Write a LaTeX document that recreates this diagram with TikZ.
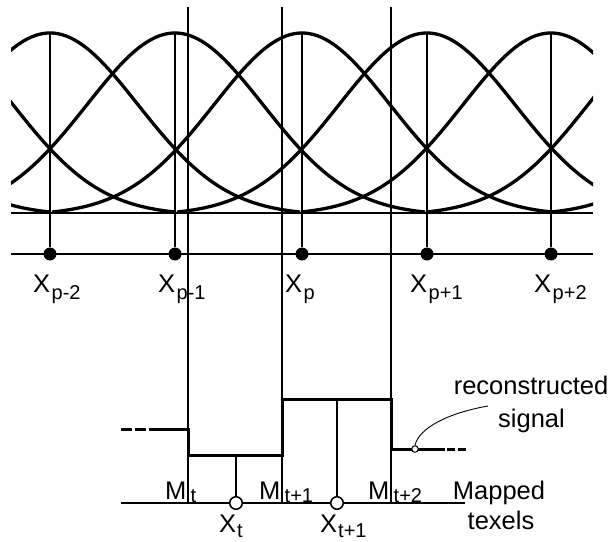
\documentclass[tikz,border=0pt]{standalone}
\usepackage{fontspec}
\setmainfont{Liberation Sans}
\newcommand\subsz{\fontsize{20}{20}\selectfont}
\newcommand\Xlab[1]{X\hspace{1.5pt}\raisebox{-7.5pt}{\subsz #1}}
\newcommand\Xlb[1]{X\hspace{1pt}\raisebox{-5pt}{\subsz #1}}
\newcommand\Mlab[1]{M\hspace{4.5pt}\raisebox{-3pt}{\subsz #1}}
\tikzset{
  curve/.style={line width=3.3pt},
  thinline/.style={line width=1.1pt},
  sig/.style={line width=3pt},
  fdot/.style={circle, fill=black, inner sep=0pt, minimum size=13pt},
  odot/.style={circle, draw=black, fill=white, line width=1.5pt, inner sep=0pt, minimum size=12.5pt},
  sdot/.style={circle, draw=black, fill=white, line width=1pt, inner sep=0pt, minimum size=6.5pt},
  lab/.style={inner sep=0pt, font=\fontsize{25.5}{30}\selectfont},
}
\begin{document}
\begin{tikzpicture}[x=1pt,y=-1pt]
\useasboundingbox (0,0) rectangle (613,541);
% axis lines
\coordinate (bl) at (11,213); \coordinate (br) at (593,213);
\draw[thinline] (bl) -- (br);
\coordinate (al) at (11,254); \coordinate (ar) at (593,254);
\draw[thinline] (al) -- (ar);
% bell curves (Gaussian, support +-2 spacings, touching the base line)
\begin{scope}
\clip (11,0) rectangle (593,230);
\foreach \c in {-200,-75,50,175,302,427,551,676,801} {
  \pgfmathsetmacro\lo{max(0,\c-250)}
  \pgfmathsetmacro\hi{min(604,\c+250)}
  \draw[curve] plot[domain=\lo:\hi, samples=140, smooth]
    (\x,{212-179*(exp(-0.5*((\x-(\c))/88)^2)-0.01768)/0.98232});
}
\end{scope}
% stems and dots
\foreach \c/\n in {50/1,175/2,302/3,427/4,551/5} {
  \coordinate (pk\n) at (\c,33);
  \node[fdot] (d\n) at (\c,254) {};
  \draw[thinline] (d\n) -- (pk\n);
}
% labels of samples
\node[lab, anchor=base west] (lx1) at (33,292) {\Xlab{p-2}};
\node[lab, anchor=base west] (lx2) at (158,292) {\Xlab{p-1}};
\node[lab, anchor=base west] (lx3) at (285,292) {\Xlab{p}};
\node[lab, anchor=base west] (lx4) at (410,292) {\Xlab{p+1}};
\node[lab, anchor=base west] (lx5) at (534,292) {\Xlab{p+2}};
% long verticals
\foreach \m/\xx in {1/188,2/282,3/391} {
  \coordinate (vt\m) at (\xx,7); \coordinate (vb\m) at (\xx,503);
  \draw[thinline] (vt\m) -- (vb\m);
}
% texel line
\coordinate (tl) at (121,503); \coordinate (tr) at (465,503);
\draw[thinline] (tl) -- (tr);
% signal corners
\coordinate (s0) at (121,429); \coordinate (s1) at (149,429);
\coordinate (s2) at (188,429); \coordinate (s3) at (188,455);
\coordinate (s4) at (282,455); \coordinate (s5) at (282,399);
\coordinate (s6) at (391,399); \coordinate (s7) at (391,449);
\coordinate (s8) at (445,449); \coordinate (s9) at (467,449);
\coordinate (s8b) at (447,449);
% texel stems
\coordinate (u1) at (236,455); \coordinate (u2) at (337,399);
\node[odot] (o1) at (236,503) {};
\node[odot] (o2) at (337,503) {};
\draw[thinline] (o1) -- (u1);
\draw[thinline] (o2) -- (u2);
% reconstructed signal
\draw[sig, dash pattern=on 11pt off 3pt] (s0) -- (s1);
\draw[sig, line join=miter] (s1) -- (s2) -- (s3) -- (s4) -- (s5) -- (s6) -- (s7) -- (s8);
\draw[sig, dash pattern=on 8pt off 3pt] (s8b) -- (s9);
% pointer
\node[sdot] (sc) at (415,449) {};
\coordinate (ldr) at (488,406);
\draw[line width=0.9pt] (sc.north) .. controls (419,428) and (448,413) .. (ldr);
\node[lab, anchor=base] (rc) at (531,394) {reconstructed};
\node[lab, anchor=base] (sg) at (531.5,427) {signal};
% M labels
\node[lab, anchor=base west] (m1) at (164.8,499) {\Mlab{t}};
\node[lab, anchor=base west] (m2) at (258.8,499) {\Mlab{t+1}};
\node[lab, anchor=base west] (m3) at (367.8,499) {\Mlab{t+2}};
% texel labels
\node[lab, anchor=base west] (xt1) at (219,532) {\Xlb{t}};
\node[lab, anchor=base west] (xt2) at (320,532) {\Xlb{t+1}};
\node[lab, anchor=base] (mp) at (499,499) {Mapped};
\node[lab, anchor=base] (tx) at (501,529) {texels};
\end{tikzpicture}
\end{document}
